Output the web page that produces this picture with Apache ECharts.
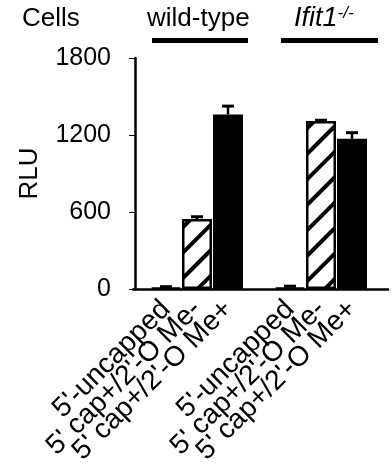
<!DOCTYPE html>
<html><head><meta charset="utf-8">
<script src="https://cdn.jsdelivr.net/npm/echarts@6/dist/echarts.min.js"></script>
<style>html,body{margin:0;padding:0;background:#fff}#c{width:392px;height:470px}</style>
</head><body><div id="c"></div>
<script>
// Data
const categories = ['', "5'-uncapped", "5' cap+/2'-O Me-", "5' cap+/2'-O Me+", '', "5'-uncapped", "5' cap+/2'-O Me-", "5' cap+/2'-O Me+", ''];
const rluMean = [null, 10, 545, 1360, null, 10, 1310, 1170, null];
const rluErr = [null, 8, 18, 65, null, 12, 5, 48, null];
const barKind = [null, 'uncapped', 'me-', 'me+', null, 'uncapped', 'me-', 'me+', null];
const yTicks = [0, 600, 1200, 1800];
const groupNames = ['wild-type', 'Ifit1'];

const FONT = 'Liberation Sans, Arial, sans-serif';
const kindStyle = {
  'uncapped': { color: '#fff', borderColor: '#000', borderWidth: 2 },
  'me-': { color: '#fff', borderColor: '#000', borderWidth: 2.5,
    decal: { symbol: 'rect', symbolSize: 1, color: '#000', backgroundColor: '#fff',
             dashArrayX: [1, 0], dashArrayY: [4, 14], rotation: -Math.PI / 4 } },
  'me+': { color: '#000', borderColor: '#000', borderWidth: 2 }
};

const barData = rluMean.map((v, i) => v == null ? '-' : { value: v, itemStyle: kindStyle[barKind[i]] });
const errData = rluMean.map((v, i) => v == null ? null : [i, v, v + rluErr[i]]).filter(d => d);

const chart = echarts.init(document.getElementById('c'), null, { renderer: 'canvas' });
chart.setOption({
  animation: false,
  backgroundColor: '#fff',
  textStyle: { fontFamily: FONT },
  grid: [
    { left: 135, right: 9, top: 58, bottom: 181 },
    { left: 133, right: 4, top: 58, bottom: 181 }
  ],
  xAxis: [
    { type: 'category', data: categories, boundaryGap: false, gridIndex: 0,
      axisLine: { show: false }, axisTick: { show: false },
      axisLabel: { interval: 0, rotate: 45, margin: 16, color: '#000', fontSize: 28, fontFamily: FONT } },
    { type: 'value', gridIndex: 1, min: 0, max: 1,
      axisLine: { show: true, lineStyle: { color: '#000', width: 2.5 } },
      axisTick: { show: false }, axisLabel: { show: false }, splitLine: { show: false } }
  ],
  yAxis: [
    { type: 'value', gridIndex: 0, min: yTicks[0], max: yTicks[yTicks.length - 1], interval: 600,
      name: 'RLU', nameLocation: 'middle', nameGap: 92, nameRotate: 90,
      nameTextStyle: { color: '#000', fontSize: 26, fontFamily: FONT },
      axisLine: { show: true, lineStyle: { color: '#000', width: 2.5 } },
      axisTick: { show: true, length: 6, lineStyle: { color: '#000', width: 1 } },
      axisLabel: { color: '#000', fontSize: 25, margin: 24, fontFamily: FONT, formatter: v => String(v) },
      splitLine: { show: false } },
    { type: 'value', gridIndex: 1, show: false, min: 0, max: 1 }
  ],
  series: [
    { type: 'bar', xAxisIndex: 0, yAxisIndex: 0, data: barData, barWidth: 30 },
    { type: 'custom', xAxisIndex: 0, yAxisIndex: 0, data: errData, z: 3,
      renderItem: function (params, api) {
        const x = api.value(0);
        const p0 = api.coord([x, api.value(1)]);
        const p1 = api.coord([x, api.value(2)]);
        const hw = 6;
        return { type: 'group', children: [
          { type: 'line', shape: { x1: p0[0], y1: p0[1], x2: p1[0], y2: p1[1] }, style: { stroke: '#000', lineWidth: 2.5 } },
          { type: 'line', shape: { x1: p1[0] - hw, y1: p1[1], x2: p1[0] + hw, y2: p1[1] }, style: { stroke: '#000', lineWidth: 3 } }
        ]};
      } }
  ],
  graphic: [
    { type: 'text', left: 22, top: 6, style: { text: 'Cells', font: '26px ' + FONT, fill: '#000' } },
    { type: 'text', left: 147, top: 6, style: { text: groupNames[0], font: '26px ' + FONT, fill: '#000' } },
    { type: 'text', left: 294, top: 5, style: { text: '{a|' + groupNames[1] + '}{b|-/-}', fill: '#000',
        rich: { a: { fontSize: 27, fontStyle: 'italic', fontFamily: FONT },
                b: { fontSize: 17, fontStyle: 'italic', fontFamily: FONT, verticalAlign: 'top' } } } },
    { type: 'rect', shape: { x: 152, y: 38, width: 96, height: 5 }, style: { fill: '#000' } },
    { type: 'rect', shape: { x: 281, y: 38, width: 97, height: 5 }, style: { fill: '#000' } }
  ]
});
</script></body></html>
